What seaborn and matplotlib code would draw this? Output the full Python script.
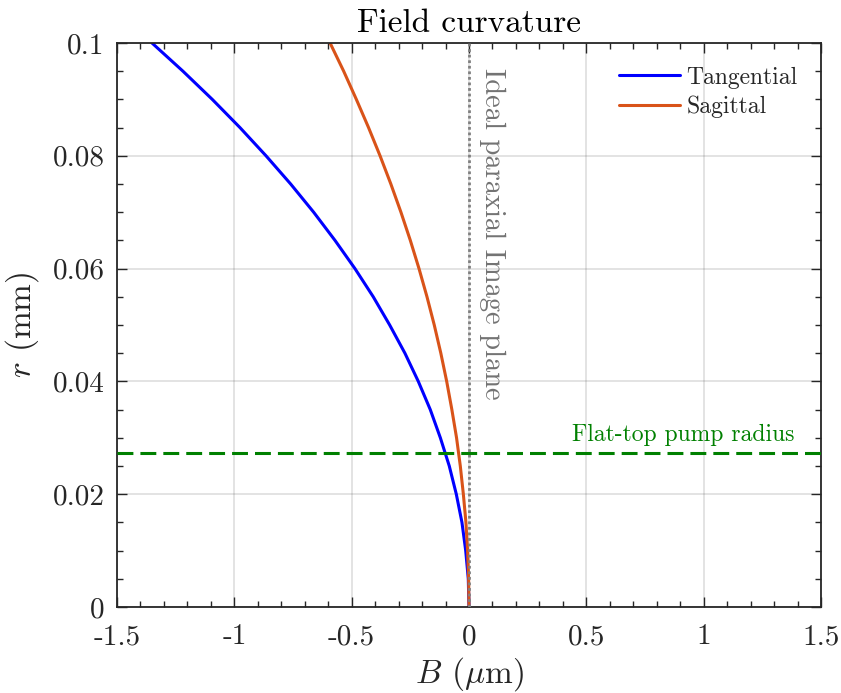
import numpy as np
import pandas as pd
import seaborn as sns
import matplotlib.pyplot as plt
from matplotlib.ticker import MultipleLocator, FuncFormatter

# radial height r (mm) and focal shift B (um)
r_mm = [0, 0.005, 0.01, 0.015, 0.02, 0.025, 0.03, 0.035, 0.04, 0.045, 0.05,
        0.055, 0.06, 0.065, 0.07, 0.075, 0.08, 0.085, 0.09, 0.095, 0.1]
tangential_um = [0, -0.003, -0.014, -0.030, -0.054, -0.084, -0.122, -0.165,
                 -0.216, -0.273, -0.338, -0.408, -0.486, -0.571, -0.662,
                 -0.760, -0.865, -0.976, -1.094, -1.219, -1.351]
sagittal_um = [0, -0.0015, -0.006, -0.013, -0.024, -0.037, -0.053, -0.073,
               -0.095, -0.120, -0.148, -0.179, -0.213, -0.250, -0.290,
               -0.333, -0.379, -0.428, -0.480, -0.534, -0.592]
pump_radius = 0.0273
image_plane = 0.0

sns.set_style("ticks")
plt.rcParams['font.family'] = ['cmr10', 'DejaVu Serif']
plt.rcParams['mathtext.fontset'] = 'cm'
plt.rcParams['axes.unicode_minus'] = False
plt.rcParams['axes.formatter.use_mathtext'] = True

axcol = (0.15, 0.15, 0.15)

fig = plt.figure(figsize=(8.41, 6.93), dpi=100)
ax = fig.add_axes([0.1391, 0.1241, 0.8371, 0.8139])

df_t = pd.DataFrame({'B': tangential_um, 'r': r_mm})
df_s = pd.DataFrame({'B': sagittal_um, 'r': r_mm})

sns.lineplot(data=df_t, x='B', y='r', orient='y', sort=False, estimator=None,
             color=(0, 0, 1), lw=2.2, label='Tangential', ax=ax)
sns.lineplot(data=df_s, x='B', y='r', orient='y', sort=False, estimator=None,
             color='#D95319', lw=2.2, label='Sagittal', ax=ax)

ax.axvline(image_plane, color=(0.5, 0.5, 0.5), ls=(0, (1, 1)), lw=2.0, zorder=3)
ax.axhline(pump_radius, color=(0, 0.5, 0), ls=(0, (5.2, 2.3)), lw=2.2, zorder=3)

ax.text(0.043, 0.0956, 'Ideal paraxial Image plane', rotation=-90,
        ha='left', va='top', fontsize=20.5, color=(0.45, 0.45, 0.45))
ax.text(1.386, 0.0286, 'Flat-top pump radius', ha='right', va='bottom',
        fontsize=17, color=(0, 0.5, 0))

ax.set_xlim(-1.5, 1.5)
ax.set_ylim(0, 0.1)
ax.xaxis.set_major_locator(MultipleLocator(0.5))
ax.xaxis.set_minor_locator(MultipleLocator(0.1))
ax.yaxis.set_major_locator(MultipleLocator(0.02))
ax.yaxis.set_minor_locator(MultipleLocator(0.005))
fmt = FuncFormatter(lambda v, p: '%g' % round(v, 6))
ax.xaxis.set_major_formatter(fmt)
ax.yaxis.set_major_formatter(fmt)

ax.grid(True, which='major', color=(0.15, 0.15, 0.15), alpha=0.15, lw=1.2)
ax.tick_params(which='both', direction='in', top=True, right=True,
               color=axcol, width=1.0)
ax.tick_params(which='major', length=7, labelsize=21, labelcolor=axcol)
ax.tick_params(axis='x', which='major', pad=12)
ax.tick_params(axis='y', which='major', pad=9)
ax.tick_params(which='minor', length=4.5)
for s in ax.spines.values():
    s.set_color(axcol)
    s.set_linewidth(1.3)

ax.set_xlabel(r'$B$ ($\mu$m)', fontsize=24, color=axcol, labelpad=4)
ax.set_ylabel(r'$r$ (mm)', fontsize=24, color=axcol, labelpad=8)
ax.set_title('Field curvature', fontsize=24, color='black', pad=8)

ax.legend(loc='upper right', frameon=False, fontsize=17, handlelength=2.6,
          handletextpad=0.25, labelspacing=0.3, borderaxespad=0.6)

fig.savefig('out.png', dpi=100)
